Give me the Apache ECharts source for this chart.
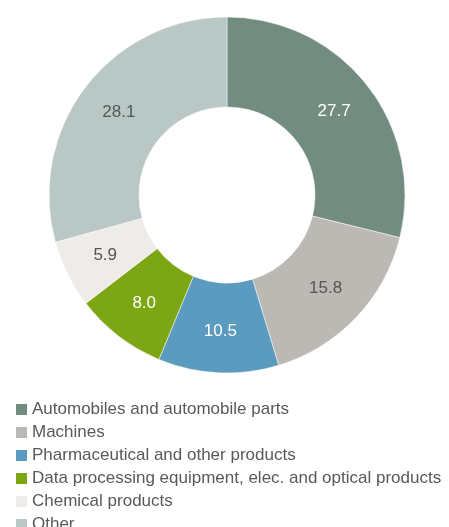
<!DOCTYPE html>
<html>
<head>
<meta charset="utf-8">
<script src="https://cdn.jsdelivr.net/npm/echarts@6/dist/echarts.min.js"></script>
<style>
  html, body { margin: 0; padding: 0; background: #fff; }
  #chart { width: 449px; height: 527px; }
</style>
</head>
<body>
<div id="chart"></div>
<script>
// Product groups and their shares
const categories = [
  'Automobiles and automobile parts',
  'Machines',
  'Pharmaceutical and other products',
  'Data processing equipment, elec. and optical products',
  'Chemical products',
  'Other'
];
const values = [27.7, 15.8, 10.5, 8.0, 5.9, 28.1];
const colors = ['#728c80', '#bcb8b4', '#5b9bbf', '#7da614', '#efebe8', '#b9c8c5'];
const labelColors = ['#ffffff', '#555555', '#ffffff', '#ffffff', '#555555', '#555555'];

const chart = echarts.init(document.getElementById('chart'), null, { renderer: 'canvas' });

chart.setOption({
  animation: false,
  legend: {
    orient: 'vertical',
    left: 16,
    top: 401,
    height: 300,
    padding: 0,
    itemWidth: 11,
    itemHeight: 11,
    itemGap: 6,
    itemTextGap: 3,
    icon: 'rect',
    itemStyle: { borderWidth: 0 },
    data: categories,
    textStyle: {
      fontFamily: 'Liberation Sans, Arial, sans-serif',
      fontSize: 17,
      lineHeight: 17,
      color: '#595959'
    }
  },
  series: [{
    type: 'pie',
    center: [227, 195],
    radius: [88, 178],
    startAngle: 90,
    clockwise: true,
    avoidLabelOverlap: false,
    data: categories.map((name, i) => ({
      name,
      value: values[i],
      itemStyle: { color: colors[i] },
      label: { color: labelColors[i] }
    })),
    itemStyle: { borderColor: '#ffffff', borderWidth: 0.5 },
    label: {
      show: true,
      position: 'inside',
      formatter: p => p.value.toFixed(1),
      fontFamily: 'Liberation Sans, Arial, sans-serif',
      fontSize: 17
    },
    labelLine: { show: false },
    emphasis: { disabled: true }
  }]
});
</script>
</body>
</html>
